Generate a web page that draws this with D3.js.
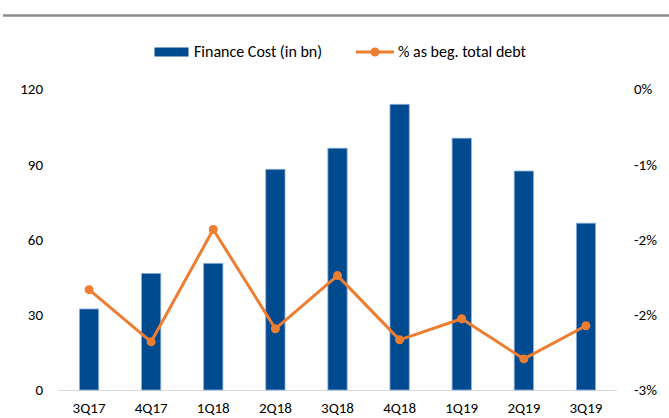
<!DOCTYPE html>
<html>
<head>
<meta charset="utf-8">
<script src="https://cdn.jsdelivr.net/npm/d3@7"></script>
<style>
  body { margin: 0; background: #fff; }
  svg { display: block; font-family: Carlito, Lato, "Open Sans", sans-serif; }
</style>
</head>
<body>
<svg width="669" height="418"></svg>
<script>
var width = 669;
var height = 418;

// data
var quarters = ["3Q17","4Q17","1Q18","2Q18","3Q18","4Q18","1Q19","2Q19","3Q19"];
var financeCost = [32.3, 46.5, 50.5, 88.0, 96.4, 113.9, 100.4, 87.3, 66.5];
var pctDebt = [-2.0, -2.52, -1.40, -2.39, -1.86, -2.50, -2.29, -2.69, -2.36];
var leftTicks = [0, 30, 60, 90, 120];
var rightTicks = [0, -0.75, -1.5, -2.25, -3];

var blue = "#004a8f";
var orange = "#ed7d31";

var svg = d3.select("svg");

// grey rule at top
svg.append("line")
    .attr("x1", 3).attr("x2", width)
    .attr("y1", 15.5).attr("y2", 15.5)
    .style("stroke", "#8c8c8c")
    .style("stroke-width", 2.5);

var x = d3.scaleBand()
    .domain(quarters)
    .range([58, 617])
    .paddingInner(0.69)
    .paddingOuter(0.345);

var yLeft = d3.scaleLinear()
    .domain([0, 120])
    .range([390, 89]);

var yRight = d3.scaleLinear()
    .domain([-3, 0])
    .range([390, 89]);

// left axis
var axisL = d3.axisLeft(yLeft).tickValues(leftTicks).tickSize(0).tickPadding(0);
svg.append("g").attr("class", "axis")
    .attr("transform", "translate(43,0)")
    .call(axisL)
    .call(function(g){ g.select(".domain").remove(); });

// right axis, excel-style rounding of the labels
var fmtPct = function(d){
    var r = Math.round(Math.abs(d));
    return (d < 0 && r != 0 ? "-" : "") + r + "%";
};
var axisR = d3.axisRight(yRight).tickValues(rightTicks).tickFormat(fmtPct).tickSize(0).tickPadding(0);
svg.append("g").attr("class", "axis")
    .attr("transform", "translate(634,0)")
    .call(axisR)
    .call(function(g){ g.select(".domain").remove(); });

// x axis
var axisX = d3.axisBottom(x).tickSize(0).tickPadding(0);
svg.append("g").attr("class", "axis")
    .attr("transform", "translate(0,402)")
    .call(axisX)
    .call(function(g){ g.select(".domain").remove(); });

svg.selectAll(".axis text")
    .style("font-family", "Carlito, Lato, 'Open Sans', sans-serif")
    .style("font-size", "15px")
    .style("fill", "#000");

// baseline
svg.append("line")
    .attr("x1", 58).attr("x2", 617)
    .attr("y1", 390.5).attr("y2", 390.5)
    .style("stroke", "#d9d9d9")
    .style("stroke-width", 1);

// bars
svg.append("g").selectAll("rect")
    .data(financeCost)
    .enter()
    .append("rect")
    .attr("x", function(d, i){ return x(quarters[i]); })
    .attr("y", function(d){ return yLeft(d); })
    .attr("width", x.bandwidth())
    .attr("height", function(d){ return yLeft(0) - yLeft(d); })
    .style("fill", blue)
    .style("stroke", "#8eaedb")
    .style("stroke-width", 0.8);

// line
var line = d3.line()
    .x(function(d, i){ return x(quarters[i]) + x.bandwidth()/2; })
    .y(function(d){ return yRight(d); });

svg.append("path")
    .datum(pctDebt)
    .attr("d", line)
    .style("fill", "none")
    .style("stroke", orange)
    .style("stroke-width", 3)
    .style("stroke-linejoin", "round");

svg.append("g").selectAll("circle")
    .data(pctDebt)
    .enter()
    .append("circle")
    .attr("cx", function(d, i){ return x(quarters[i]) + x.bandwidth()/2; })
    .attr("cy", function(d){ return yRight(d); })
    .attr("r", 4.5)
    .style("fill", orange);

// legend
var legend = svg.append("g").style("font-size", "16px");
legend.append("rect")
    .attr("x", 154.5).attr("y", 47.5)
    .attr("width", 34).attr("height", 9)
    .style("fill", blue);
legend.append("text")
    .attr("x", 194).attr("y", 57)
    .text("Finance Cost (in bn)");
legend.append("line")
    .attr("x1", 356).attr("x2", 394)
    .attr("y1", 52).attr("y2", 52)
    .style("stroke", orange)
    .style("stroke-width", 3);
legend.append("circle")
    .attr("cx", 375).attr("cy", 52).attr("r", 4.5)
    .style("fill", orange);
legend.append("text")
    .attr("x", 398).attr("y", 57)
    .text("% as beg. total debt");
</script>
</body>
</html>
